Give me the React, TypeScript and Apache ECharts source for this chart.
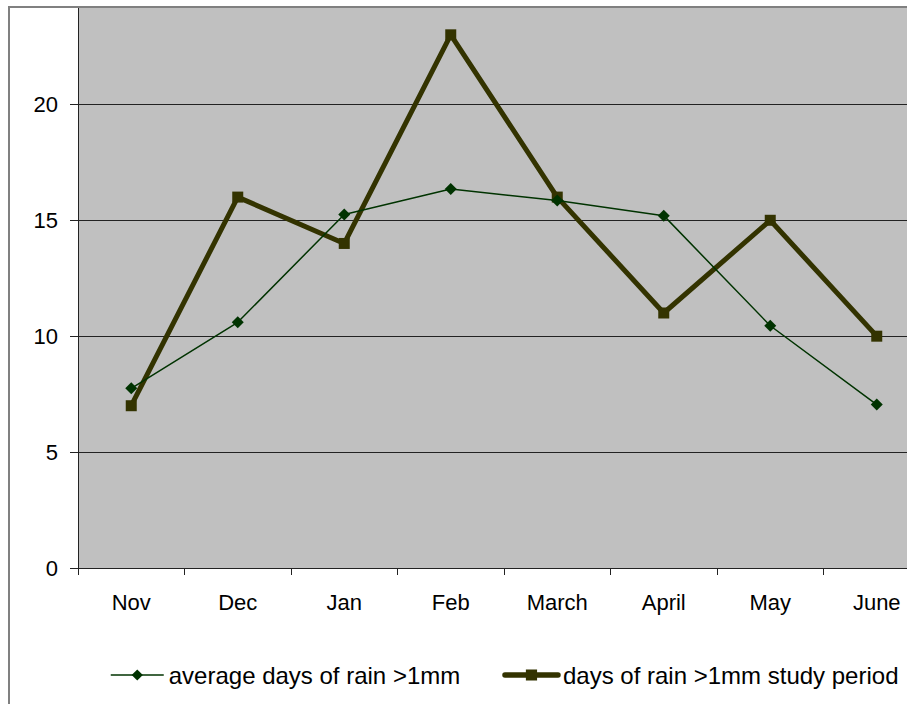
import React, { useEffect, useRef } from "react";
import * as echarts from "echarts";

const months = ["Nov", "Dec", "Jan", "Feb", "March", "April", "May", "June"];
const averageDays = [7.75, 10.6, 15.25, 16.35, 15.85, 15.2, 10.45, 7.05];
const studyDays = [7, 16, 14, 23, 16, 11, 15, 10];
const seriesNames = ["average days of rain >1mm", "days of rain >1mm study period"];

const FONT = "'Liberation Sans', Arial, sans-serif";

export default function App() {
  const ref = useRef<HTMLDivElement>(null);
  useEffect(() => {
    document.body.style.margin = "0";
    const chart = echarts.init(ref.current!, null, { renderer: "svg" });
    chart.setOption({
      animation: false,
      backgroundColor: "#ffffff",
      textStyle: { fontFamily: FONT },
      grid: { left: 78, top: 7, right: 10, bottom: 136, backgroundColor: "#C0C0C0", show: true, borderWidth: 0 },
      legend: {
        left: 105,
        top: 658,
        itemWidth: 53,
        itemHeight: 14,
        itemGap: 42,
        textStyle: { fontFamily: FONT, fontSize: 24, color: "#000" },
        data: [
          { name: seriesNames[0], itemStyle: { color: "#003300" }, lineStyle: { color: "#003300", width: 1.5 } },
          { name: seriesNames[1], itemStyle: { color: "#333300" }, lineStyle: { color: "#333300", width: 5.5, cap: "round" } },
        ],
      },
      xAxis: {
        type: "category",
        data: months,
        axisLine: { lineStyle: { color: "#222", width: 1 } },
        axisTick: { show: true, length: 7, lineStyle: { color: "#222" } },
        axisLabel: { fontFamily: FONT, fontSize: 22, color: "#000", margin: 23 },
      },
      yAxis: {
        type: "value",
        min: 0,
        max: 24.2,
        interval: 5,
        axisLine: { show: true, lineStyle: { color: "#222", width: 1 } },
        axisTick: { show: true, length: 8, lineStyle: { color: "#222" } },
        axisLabel: {
          fontFamily: FONT,
          fontSize: 22,
          color: "#000",
          margin: 20,
          formatter: (v: number) => (v % 5 === 0 ? String(v) : ""),
        },
        splitLine: { show: true, lineStyle: { color: "#222", width: 1 } },
      },
      series: [
        {
          name: seriesNames[0],
          type: "line",
          data: averageDays,
          symbol: "diamond",
          symbolSize: 12,
          itemStyle: { color: "#003300" },
          lineStyle: { color: "#003300", width: 1.5 },
          z: 3,
        },
        {
          name: seriesNames[1],
          type: "line",
          data: studyDays,
          symbol: "rect",
          symbolSize: 11,
          itemStyle: { color: "#333300" },
          lineStyle: { color: "#333300", width: 5 },
          z: 2,
        },
      ],
      graphic: [
        {
          type: "rect",
          shape: { x: 9, y: 7, width: 1000, height: 1000 },
          style: { fill: "none", stroke: "#808080", lineWidth: 2 },
          z: 100,
          silent: true,
        },
      ],
    });
    return () => chart.dispose();
  }, []);
  return (
    <div style={{ width: 907, height: 704, overflow: "hidden", position: "relative" }}>
      <div ref={ref} style={{ width: 940, height: 704 }} />
    </div>
  );
}
